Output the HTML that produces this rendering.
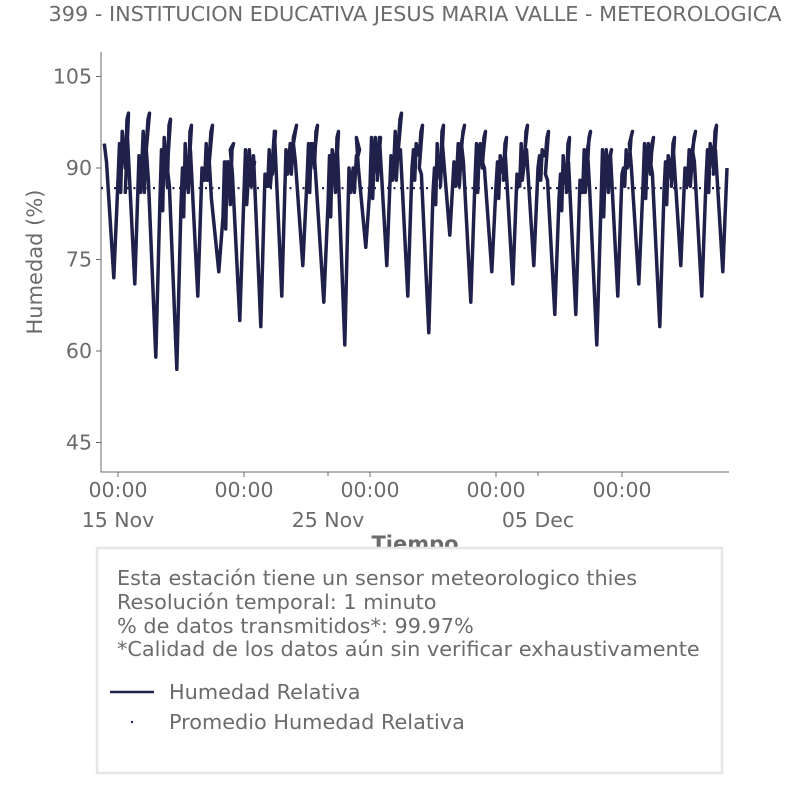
<!DOCTYPE html>
<html><head><meta charset="utf-8"><style>
body{margin:0;background:#fff;}
svg text{font-family:"DejaVu Sans","Liberation Sans",sans-serif;fill:#6b6b6b;}
</style></head><body>
<svg id="chart" width="806" height="806" viewBox="0 0 806 806" xmlns="http://www.w3.org/2000/svg">
<text x="415" y="21" font-size="20.8" text-anchor="middle">399 - INSTITUCION EDUCATIVA JESUS MARIA VALLE - METEOROLOGICA</text>
<g id="plot"></g>
<text transform="translate(42,262) rotate(-90)" font-size="21" text-anchor="middle">Humedad (%)</text>
<text x="415" y="551" font-size="21" font-weight="bold" text-anchor="middle">Tiempo</text>
<rect x="97" y="548" width="625" height="225" fill="#fff" stroke="#e6e6e6" stroke-width="2.5"/>
<g font-size="20.8">
<text x="117" y="585">Esta estación tiene un sensor meteorologico thies</text>
<text x="117" y="609">Resolución temporal: 1 minuto</text>
<text x="117" y="633">% de datos transmitidos*: 99.97%</text>
<text x="117" y="656">*Calidad de los datos aún sin verificar exhaustivamente</text>
</g>
<line x1="110" y1="692" x2="154" y2="692" stroke="#20214a" stroke-width="2.5"/>
<text x="169" y="699" font-size="20.8">Humedad Relativa</text>
<circle cx="132" cy="722" r="1.2" fill="#20214a"/>
<text x="169" y="729" font-size="20.8">Promedio Humedad Relativa</text>
</svg>
<script>
const yTicks=[105,90,75,60,45];
const xTickDays=[1,7,13,19,25];
const xTickLabels=["00:00","00:00","00:00","00:00","00:00"];
const xMinorDays=[1,11,21];
const xMinorLabels=["15 Nov","25 Nov","05 Dec"];
const dayMin=[72,71,59,57,69,73,65,64,69,74,68,61,77,74,69,63,79,68,73,71,74,66,66,61,69,71,64,74,69,73];
const dayMax=[99,99,98,97,97,94,91,96,97,97,96,93,95,99,97,97,97,96,95,97,96,95,96,93,96,95,95,96,97,96];
const dayNight=[88,92,85,84,90,82,86,89,93,88,84,90,87,92,90,86,91,88,87,89,90,85,88,84,89,87,86,90,88,90];
const dayWiggle=[94,86,93,90,88,91,93,87,89,94,92,86,95,88,93,90,87,94,91,88,92,89,86,93,90,94,91,87,93,89];
const meanValue=86.7;
const x0=101,x1=729,yTop=52,yBot=472;
const dayStart=0.25, dayEnd=30.0;
function X(d){return 118+(d-1)*21;}
function Y(v){return 168+(90-v)*6.1;}
const NS="http://www.w3.org/2000/svg";
const g=document.getElementById('plot');
function mk(t,a){const e=document.createElementNS(NS,t);for(const k in a)e.setAttribute(k,a[k]);g.appendChild(e);return e;}
let ax=mk('path',{d:`M${x0} ${yTop}V${yBot}H${x1}`,fill:'none',stroke:'#6b6b6b','stroke-width':1});


yTicks.forEach(v=>{
 let l=mk('line',{x1:x0-5,x2:x0,y1:Y(v),y2:Y(v),stroke:'#6b6b6b'});
 
 
 let t=mk('text',{x:x0-9,y:Y(v)+7,'font-size':20.5,'text-anchor':'end'});t.textContent=v;
 
 
});
xTickDays.forEach((d,i)=>{
 let l=mk('line',{x1:X(d),x2:X(d),y1:yBot,y2:yBot+5,stroke:'#6b6b6b'});
 
 
 let t=mk('text',{x:X(d),y:497,'font-size':20.5,'text-anchor':'middle'});t.textContent=xTickLabels[i];
 
 
});
xMinorDays.forEach((d,i)=>{
 let l=mk('line',{x1:X(d),x2:X(d),y1:yBot,y2:yBot+4,stroke:'#6b6b6b'});
 
 
 let t=mk('text',{x:X(d),y:527,'font-size':20.5,'text-anchor':'middle'});t.textContent=xMinorLabels[i];
 
 
});
let pts=[[dayStart-0.2,dayMax[0]]];
for(let i=0;i<dayMin.length;i++){
 const d=dayStart+i;
 pts.push([d+0.1,dayWiggle[i]]);
 pts.push([d+0.2,dayNight[i]+3]);
 pts.push([d+0.55,dayMin[i]]);
 pts.push([d+0.75,dayNight[i]]);
 pts.push([d+0.82,dayWiggle[i]]);
 pts.push([d+0.88,dayNight[i]-2]);
 pts.push([d+0.95,dayMax[i]-3]);
 pts.push([d+1.0,dayWiggle[i]]);
 pts.push([d+1.1,dayNight[i]+2]);
 pts.push([d+1.18,dayMax[i]-1]);
 pts.push([d+1.25,dayMax[i]]);
}
pts=pts.filter(p=>p[0]<=dayEnd&&X(p[0])>=x0);
let path=mk('path',{d:'M'+pts.map(p=>X(p[0]).toFixed(1)+' '+Y(p[1]).toFixed(1)).join('L'),fill:'none',stroke:'#20214a','stroke-width':3.5,'stroke-linejoin':'round'});


let m=mk('line',{x1:x0,x2:x1,y1:Y(meanValue),y2:Y(meanValue),stroke:'#20214a','stroke-width':2.2,'stroke-dasharray':'2 4.5'});


</script>
</body></html>
